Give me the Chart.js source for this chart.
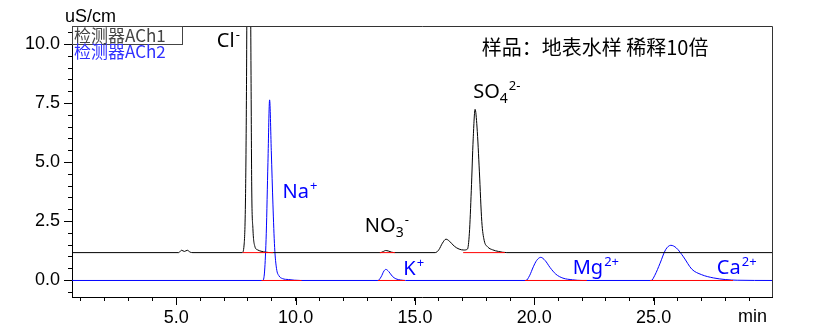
<!DOCTYPE html>
<html>
<head>
<meta charset="utf-8">
<script src="https://cdn.jsdelivr.net/npm/chart.js@4.4.1/dist/chart.umd.min.js"></script>
<style>
  html, body { margin: 0; padding: 0; background: #fff; }
</style>
</head>
<body>
<canvas id="chromChart" width="821" height="329"></canvas>
<script>
// detector ACh1 (anions), retention time in min / conductivity in uS/cm
const ch1Time = [0.63, 5.1, 5.22, 5.34, 5.46, 5.58, 5.7, 7.76, 7.84, 7.9, 7.94, 7.97, 8.03, 8.1, 8.13, 8.16, 8.21, 8.29, 8.4, 8.55, 8.75, 9.0,
    13.55, 13.68, 13.77, 13.88, 14.02, 14.16, 15.85, 16.0, 16.15, 16.3, 16.45, 16.65, 16.85, 17.05, 17.2, 17.28, 17.36, 17.44, 17.52,
    17.6, 17.7, 17.8, 17.9, 18.05, 18.25, 18.5, 18.85, 29.96];
const ch1Signal = [1.18, 1.18, 1.28, 1.23, 1.28, 1.2, 1.18, 1.18, 1.5, 3.5, 8, 14, 20, 14, 9, 4, 2.2, 1.45, 1.3, 1.24, 1.2, 1.18,
    1.18, 1.23, 1.27, 1.25, 1.2, 1.18, 1.18, 1.3, 1.58, 1.75, 1.66, 1.45, 1.33, 1.29, 1.33, 2.0, 3.8, 6.0, 7.25,
    6.5, 4.6, 2.5, 1.7, 1.42, 1.3, 1.23, 1.18, 1.18];

// detector ACh2 (cations)
const ch2Time = [0.63, 8.62, 8.7, 8.77, 8.84, 8.91, 8.98, 9.05, 9.12, 9.2, 9.3, 9.45, 9.7, 10.2,
    13.45, 13.58, 13.7, 13.78, 13.9, 14.05, 14.2, 14.4, 14.6,
    19.65, 19.8, 19.96, 20.1, 20.27, 20.45, 20.66, 20.9, 21.2, 21.6, 22.0,
    24.9, 25.05, 25.27, 25.5, 25.72, 25.95, 26.25, 26.6, 27.0, 27.5, 28.0, 28.5, 29.96];
const ch2Signal = [0, 0, 0.4, 2.0, 5.0, 7.65, 5.5, 3.2, 1.4, 0.5, 0.2, 0.08, 0.04, 0,
    0, 0.15, 0.4, 0.47, 0.38, 0.18, 0.07, 0.02, 0,
    0, 0.2, 0.58, 0.85, 0.98, 0.85, 0.55, 0.27, 0.1, 0.03, 0,
    0, 0.22, 0.73, 1.3, 1.49, 1.38, 1.0, 0.48, 0.25, 0.11, 0.04, 0.01, 0];

// integration baselines (red)
const ch1BaseStart = [7.78, 13.53, 17.02];
const ch1BaseEnd = [9.06, 14.16, 18.77];
const ch1BaseLevel = 1.18;
const ch2BaseStart = [8.57, 13.45, 19.61, 24.85];
const ch2BaseEnd = [10.25, 14.58, 22.2, 28.33];
const ch2BaseLevel = 0;

const seriesNames = ['检测器ACh1', '检测器ACh2'];
const yTickLabels = [0, 2.5, 5, 7.5, 10];
const xTickLabels = [5, 10, 15, 20, 25];
const sampleTitle = '样品：地表水样 稀释10倍';

const BLACK = '#000000';
const BLUE = '#0000ff';
const RED = '#ff0000';

function toPoints(ts, vs) {
    return ts.map((t, i) => ({ x: t, y: vs[i] }));
}

function basePoints(starts, ends, level) {
    const pts = [];
    starts.forEach((s, i) => {
        pts.push({ x: s, y: level }, { x: ends[i], y: level }, { x: ends[i], y: null });
    });
    return pts;
}

// peak labels: text parts (0 normal, -1 subscript, 1 superscript), anchored in data coordinates
const peakLabels = [
    { parts: [['Cl', 0], ['-', 1]], at: [6.70, 9.89], color: BLACK },
    { parts: [['Na', 0], ['+', 1]], at: [9.45, 3.50], color: BLUE },
    { parts: [['NO', 0], ['3', -1], ['-', 1]], at: [12.90, 2.07], color: BLACK },
    { parts: [['K', 0], ['+', 1]], at: [14.51, 0.23], color: BLUE },
    { parts: [['SO', 0], ['4', -1], ['2-', 1]], at: [17.44, 7.72], color: BLACK },
    { parts: [['Mg', 0], ['2+', 1]], at: [21.61, 0.28], color: BLUE },
    { parts: [['Ca', 0], ['2+', 1]], at: [27.65, 0.28], color: BLUE },
];

function drawRich(ctx, x, y, parts, color) {
    ctx.fillStyle = color;
    ctx.textBaseline = 'alphabetic';
    ctx.textAlign = 'left';
    let cx = x;
    parts.forEach(([t, kind]) => {
        if (kind === 0) {
            ctx.font = '20px "Noto Sans", sans-serif';
            ctx.fillText(t, cx, y);
        } else if (kind === -1) {
            ctx.font = '14px "Noto Sans", sans-serif';
            ctx.fillText(t, cx, y + 5);
        } else {
            ctx.font = '13px "Noto Sans", sans-serif';
            ctx.fillText(t, cx + 1, y - 8);
        }
        cx += ctx.measureText(t).width;
    });
}

const overlay = {
    id: 'overlay',
    afterDraw(chart) {
        const { ctx, chartArea: a, scales: { x, y } } = chart;
        ctx.save();
        // frame top/right
        ctx.strokeStyle = '#333';
        ctx.lineWidth = 1;
        ctx.beginPath();
        ctx.moveTo(a.left, Math.round(a.top) + 0.5);
        ctx.lineTo(Math.round(a.right) + 0.5, Math.round(a.top) + 0.5);
        ctx.lineTo(Math.round(a.right) + 0.5, a.bottom);
        ctx.stroke();

        // longer major ticks
        ctx.strokeStyle = '#000';
        ctx.beginPath();
        yTickLabels.forEach(v => {
            const py = Math.round(y.getPixelForValue(v)) + 0.5;
            ctx.moveTo(a.left - 8, py);
            ctx.lineTo(a.left, py);
        });
        xTickLabels.forEach(v => {
            const px = Math.round(x.getPixelForValue(v)) + 0.5;
            ctx.moveTo(px, a.bottom);
            ctx.lineTo(px, a.bottom + 8);
        });
        ctx.stroke();

        // axis titles
        ctx.fillStyle = '#000';
        ctx.font = '18px "Liberation Sans", Arial, sans-serif';
        ctx.textAlign = 'left';
        ctx.textBaseline = 'alphabetic';
        ctx.fillText('uS/cm', 65, 22);
        ctx.fillText('min', 738, 322);

        // legend box
        ctx.strokeStyle = '#444';
        ctx.strokeRect(Math.round(a.left) + 0.5, Math.round(a.top) + 0.5, 110, 18);
        ctx.font = '17px "Noto Sans CJK SC", sans-serif';
        ctx.fillStyle = '#444';
        ctx.fillText(seriesNames[0], a.left + 2, a.top + 16);
        ctx.fillStyle = '#3030ff';
        ctx.fillText(seriesNames[1], a.left + 2, a.top + 32);

        // sample title
        ctx.fillStyle = '#000';
        ctx.font = '20px "Noto Sans CJK SC", sans-serif';
        ctx.fillText(sampleTitle, x.getPixelForValue(17.8), y.getPixelForValue(9.56));

        // peak names
        peakLabels.forEach(p => {
            drawRich(ctx, x.getPixelForValue(p.at[0]), y.getPixelForValue(p.at[1]), p.parts, p.color);
        });
        ctx.restore();
    }
};

new Chart(document.getElementById('chromChart'), {
    type: 'line',
    data: {
        datasets: [
            {
                label: 'base1', data: basePoints(ch1BaseStart, ch1BaseEnd, ch1BaseLevel),
                borderColor: RED, borderWidth: 1, pointRadius: 0, spanGaps: false
            },
            {
                label: 'base2', data: basePoints(ch2BaseStart, ch2BaseEnd, ch2BaseLevel),
                borderColor: RED, borderWidth: 1, pointRadius: 0, spanGaps: false
            },
            {
                label: seriesNames[0], data: toPoints(ch1Time, ch1Signal),
                borderColor: BLACK, borderWidth: 1, pointRadius: 0, cubicInterpolationMode: 'monotone'
            },
            {
                label: seriesNames[1], data: toPoints(ch2Time, ch2Signal),
                borderColor: BLUE, borderWidth: 1, pointRadius: 0, cubicInterpolationMode: 'monotone'
            }
        ]
    },
    options: {
        responsive: false,
        animation: false,
        devicePixelRatio: 1,
        layout: { padding: { top: 26, right: 49, left: 0, bottom: 0 } },
        plugins: {
            legend: { display: false },
            tooltip: { enabled: false }
        },
        scales: {
            x: {
                type: 'linear',
                min: 0.63,
                max: 29.96,
                afterFit: s => { s.height = 32; },
                border: { color: '#000', width: 1 },
                grid: { drawOnChartArea: false, tickLength: 4, color: '#000' },
                ticks: {
                    stepSize: 1,
                    autoSkip: false,
                    includeBounds: false,
                    maxRotation: 0,
                    padding: 6,
                    color: '#000',
                    font: { family: '"Liberation Sans", Arial, sans-serif', size: 18 },
                    callback: v => xTickLabels.includes(v) ? v.toFixed(1) : ''
                }
            },
            y: {
                min: -0.7,
                max: 10.78,
                afterFit: s => { s.width = 72; },
                border: { color: '#000', width: 1 },
                grid: { drawOnChartArea: false, tickLength: 4, color: '#000' },
                ticks: {
                    stepSize: 0.5,
                    autoSkip: false,
                    includeBounds: false,
                    padding: 8,
                    color: '#000',
                    font: { family: '"Liberation Sans", Arial, sans-serif', size: 18 },
                    callback: v => yTickLabels.includes(v) ? v.toFixed(1) : ''
                }
            }
        }
    },
    plugins: [overlay]
});
</script>
</body>
</html>
